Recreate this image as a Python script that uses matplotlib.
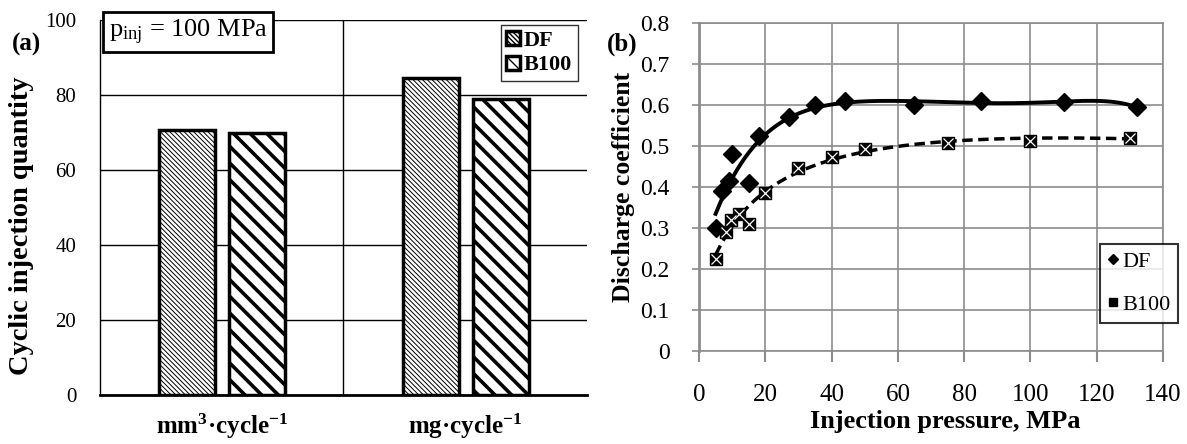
import numpy as np
import matplotlib
matplotlib.use("Agg")
import matplotlib.pyplot as plt
from matplotlib.lines import Line2D

plt.rcParams['font.family'] = ['Liberation Serif', 'DejaVu Serif']
plt.rcParams['mathtext.fontset'] = 'custom'
plt.rcParams['mathtext.rm'] = 'Liberation Serif'
plt.rcParams['mathtext.it'] = 'Liberation Serif:italic'
plt.rcParams['mathtext.bf'] = 'Liberation Serif:bold'

# (a) cyclic injection quantity
units = ["mm$\\mathregular{^3}$·cycle$\\mathregular{^{-1}}$", "mg·cycle$\\mathregular{^{-1}}$"]
qty_df = [70.7, 84.6]
qty_b100 = [69.9, 79.0]

# (b) discharge coefficient
p_df = [5, 7, 9, 10, 15, 18, 27, 35, 44, 65, 85, 110, 132]
cd_df = [0.30, 0.39, 0.415, 0.48, 0.41, 0.525, 0.57, 0.60, 0.61, 0.60, 0.61, 0.607, 0.595]
p_b100 = [5, 8, 9.5, 12, 15, 20, 30, 40, 50, 75, 100, 130]
cd_b100 = [0.225, 0.29, 0.32, 0.335, 0.31, 0.385, 0.445, 0.473, 0.492, 0.508, 0.513, 0.52]

fig = plt.figure(figsize=(11.87, 4.44), dpi=100)

# ---------------- left panel
ax = fig.add_axes([0.0842, 0.1104, 0.4103, 0.8446])
x = np.arange(len(units))
w = 0.23
with plt.rc_context({'hatch.linewidth': 0.7}):
    ax.bar(x - 0.142, qty_df, w, facecolor='white', edgecolor='black', lw=2.5,
           hatch='\\\\\\\\\\\\\\', zorder=3, label='DF')
with plt.rc_context({'hatch.linewidth': 2.6}):
    ax.bar(x + 0.146, qty_b100, w, facecolor='white', edgecolor='black', lw=2.5,
           hatch='\\\\', zorder=3, label='B100')
ax.set_xlim(-0.5, 1.5)
ax.set_ylim(0, 100)
ax.set_yticks(np.arange(0, 101, 20))
ax.set_xticks(x)
ax.set_xticklabels(units)
ax.yaxis.grid(True, color='black', lw=1)
ax.set_axisbelow(True)
ax.axvline(0.5, color='black', lw=1, zorder=1)
ax.tick_params(axis='both', length=0)
ax.tick_params(axis='x', pad=12, labelsize=18)
for t in ax.get_xticklabels():
    t.set_fontweight('bold')
ax.tick_params(axis='y', pad=17, labelsize=15)
for s in ['top', 'right']:
    ax.spines[s].set_visible(False)
ax.spines['left'].set_linewidth(1)
ax.spines['bottom'].set_linewidth(2)
ax.set_ylabel("Cyclic injection quantity", fontsize=20.5, fontweight='bold')
ax.yaxis.set_label_coords(-0.135, 0.45)
ax.text(0.018, 0.968, "$\\mathregular{p_{inj}}$ = 100 MPa", transform=ax.transAxes,
        fontsize=19, va='center', ha='left', zorder=6,
        bbox=dict(boxstyle='square,pad=0.2', fc='white', ec='black', lw=2))
fig.text(0.010, 0.885, "(a)", fontsize=18, fontweight='bold')
leg = ax.legend(loc='upper left', bbox_to_anchor=(0.80, 1.015), frameon=True,
                fancybox=False, edgecolor='black', handlelength=0.6, handleheight=0.6,
                handletextpad=0.2, borderpad=0.25, labelspacing=0.2,
                prop={'size': 16, 'weight': 'bold'})
leg.get_frame().set_linewidth(1)
leg.set_zorder(10)

# ---------------- right panel
ax2 = fig.add_axes([0.5889, 0.2098, 0.3909, 0.7384])
grey = '#8c8c8c'
pf = np.polynomial.Polynomial.fit(p_df, cd_df, 6)
pb = np.polynomial.Polynomial.fit(np.log(p_b100), cd_b100, 3)
xf = np.linspace(min(p_df), max(p_df), 300)
xb = np.linspace(min(p_b100), max(p_b100), 300)
ax2.plot(xf, pf(xf), color='black', lw=2.8, zorder=3)
ax2.plot(xb, pb(np.log(xb)), color='black', lw=2.5, ls=(0, (3, 1.6)), zorder=3)
ax2.plot(p_df, cd_df, ls='none', marker='D', ms=9, color='black', zorder=4)
ax2.plot(p_b100, cd_b100, ls='none', marker='s', ms=9, color='black', zorder=4)
ax2.plot(p_b100, cd_b100, ls='none', marker='x', ms=7, mew=0.9, color='white', zorder=5)
ax2.set_xlim(0, 140)
ax2.set_ylim(0, 0.8)
ax2.set_xticks(np.arange(0, 141, 20))
ax2.set_yticks(np.arange(0, 0.81, 0.1))
ax2.set_yticklabels(["0"] + ["%.1f" % v for v in np.arange(0.1, 0.81, 0.1)])
ax2.grid(True, color=grey, lw=1.2)
ax2.set_axisbelow(True)
for s in ['top', 'right']:
    ax2.spines[s].set_color(grey)
    ax2.spines[s].set_linewidth(1.2)
ax2.spines['left'].set_color(grey)
ax2.spines['left'].set_linewidth(2)
ax2.spines['bottom'].set_color(grey)
ax2.spines['bottom'].set_linewidth(1.2)
ax2.tick_params(axis='both', color=grey)
ax2.tick_params(axis='x', length=8, width=1.5, pad=16, labelsize=18)
ax2.tick_params(axis='y', length=5, width=1.2, pad=16, labelsize=17)
ax2.set_xlabel("Injection pressure, MPa", fontsize=19, fontweight='bold')
ax2.xaxis.set_label_coords(0.53, -0.18)
ax2.set_ylabel("Discharge coefficient", fontsize=18.5, fontweight='bold', labelpad=4)
fig.text(0.511, 0.885, "(b)", fontsize=18, fontweight='bold')
handles = [Line2D([], [], ls='none', marker='D', ms=5, color='black'),
           Line2D([], [], ls='none', marker='s', ms=6, color='black')]
leg2 = ax2.legend(handles, ['DF', 'B100'], loc='upper left', bbox_to_anchor=(0.84, 0.36),
                  frameon=True, fancybox=False, edgecolor='black', handlelength=0.5,
                  handletextpad=0.15, borderpad=0.35, labelspacing=1.0, prop={'size': 16})
leg2.get_frame().set_linewidth(1.5)
leg2.set_zorder(10)

fig.savefig("out.png", dpi=100)
